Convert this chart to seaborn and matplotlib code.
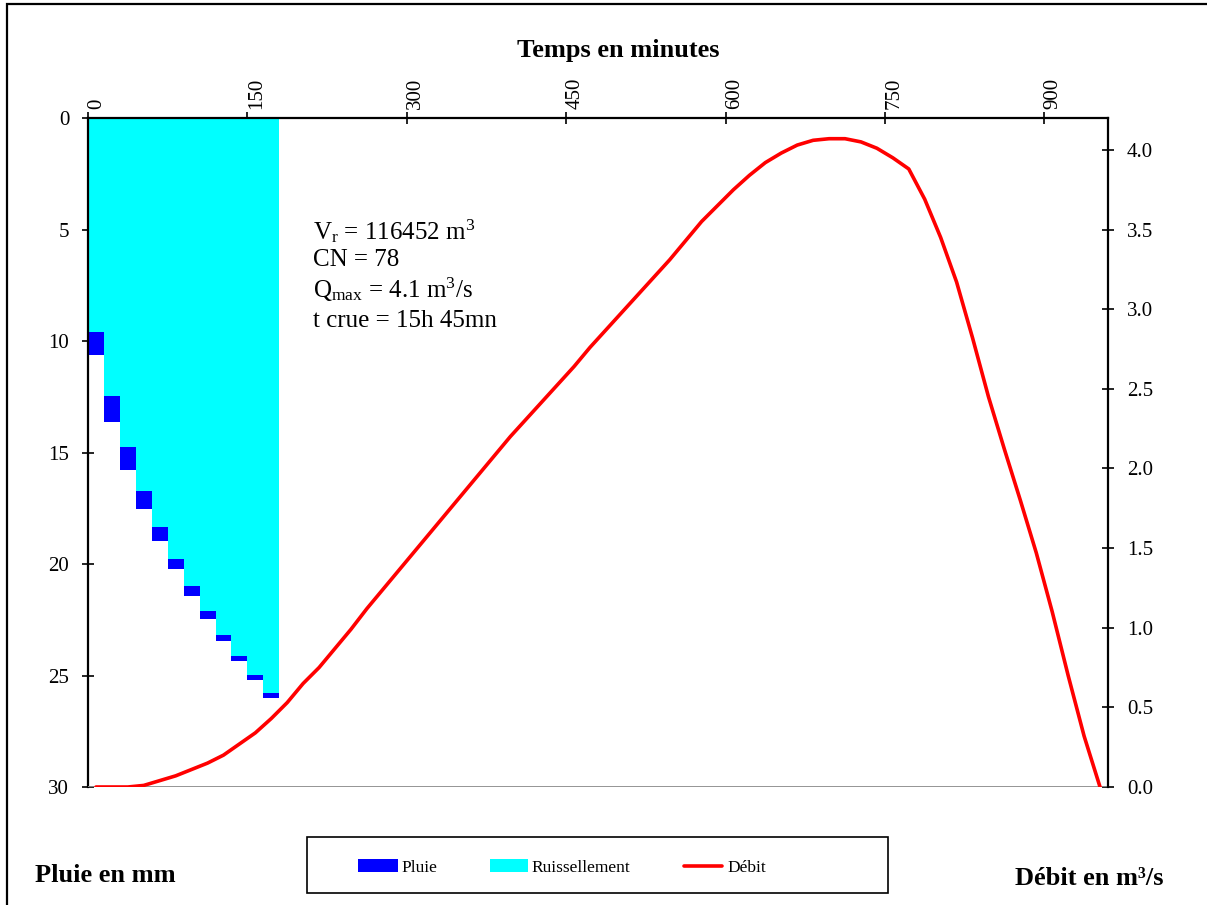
import numpy as np
import pandas as pd
import matplotlib
matplotlib.use("Agg")
import matplotlib.pyplot as plt
import seaborn as sns
from matplotlib.patches import Rectangle
from matplotlib.lines import Line2D
from matplotlib.ticker import FormatStrFormatter
from matplotlib.transforms import ScaledTranslation

# --- Hyétogramme : pas de 15 minutes (centres des pas, en minutes) ---
temps_pluie_min = [7.5, 22.5, 37.5, 52.5, 67.5, 82.5, 97.5, 112.5, 127.5, 142.5, 157.5, 172.5]
ruissellement_mm = [9.58, 12.45, 14.75, 16.71, 18.35, 19.79, 20.99, 22.11, 23.17, 24.14, 24.96, 25.80]
pluie_mm = [1.05, 1.18, 1.05, 0.82, 0.60, 0.43, 0.43, 0.37, 0.28, 0.22, 0.22, 0.22]

# --- Hydrogramme de crue : débit en m3/s, pas de 15 minutes ---
temps_debit_min = np.arange(7.5, 960, 15)
debit_m3s = [0.00, 0.00, 0.00, 0.01, 0.04, 0.07, 0.11, 0.15, 0.20, 0.27,
             0.34, 0.43, 0.53, 0.65, 0.75, 0.87, 0.99, 1.12, 1.24, 1.36,
             1.48, 1.60, 1.72, 1.84, 1.96, 2.08, 2.20, 2.31, 2.42, 2.53,
             2.64, 2.76, 2.87, 2.98, 3.09, 3.20, 3.31, 3.43, 3.55, 3.65,
             3.75, 3.84, 3.92, 3.98, 4.03, 4.06, 4.07, 4.07, 4.05, 4.01,
             3.95, 3.88, 3.69, 3.45, 3.17, 2.82, 2.45, 2.12, 1.80, 1.47,
             1.10, 0.70, 0.32, 0.00]

ticks_temps = [0, 150, 300, 450, 600, 750, 900]
ticks_pluie = [0, 5, 10, 15, 20, 25, 30]
ticks_debit = [0.0, 0.5, 1.0, 1.5, 2.0, 2.5, 3.0, 3.5, 4.0]

series_legende = ["Pluie", "Ruissellement", "Débit"]

volume_ruisselle = 116452
cn = 78
duree_crue = "15h 45mn"

sns.set_theme(style="white", rc={"text.color": "black", "xtick.color": "black",
                                 "ytick.color": "black", "axes.labelcolor": "black"})
plt.rcParams["font.family"] = ["Liberation Serif", "DejaVu Serif"]
plt.rcParams["mathtext.fontset"] = "custom"
plt.rcParams["mathtext.rm"] = "Liberation Serif"
plt.rcParams["mathtext.it"] = "Liberation Serif:italic"
plt.rcParams["mathtext.bf"] = "Liberation Serif:bold"

BLEU = "#0000FF"
CYAN = "#00FFFF"
ROUGE = "#FF0000"
W, H = 1207, 905


def fx(px):
    return px / W


def fy(py):
    return 1 - py / H


fig = plt.figure(figsize=(W / 100, H / 100), dpi=100)
ax = fig.add_axes([fx(88), fy(787), (1108 - 88) / W, (787 - 118) / H])
ax.set_facecolor("white")

# Pluie : barres jusqu'à la profondeur totale, recouvertes par le ruissellement
profondeur = [r + p for r, p in zip(ruissellement_mm, pluie_mm)]
df_pluie = pd.DataFrame({"t": temps_pluie_min, "prof": profondeur, "ruis": ruissellement_mm})
sns.barplot(data=df_pluie, x="t", y="prof", native_scale=True, color=BLEU,
            saturation=1, width=1, linewidth=0, errorbar=None, ax=ax)
sns.barplot(data=df_pluie, x="t", y="ruis", native_scale=True, color=CYAN,
            saturation=1, width=1, linewidth=0, errorbar=None, ax=ax)

ax.set_xlim(0, 960)
ax.set_ylim(30, 0)
ax.set_xlabel("")
ax.set_ylabel("")
ax.xaxis.tick_top()
ax.set_xticks(ticks_temps)
ax.set_xticklabels([str(t) for t in ticks_temps])
ax.set_yticks(ticks_pluie)
ax.set_yticklabels([str(v) for v in ticks_pluie])
ax.tick_params(axis="x", direction="inout", length=9, width=1.2, labelsize=15,
               labelrotation=90, pad=2, colors="black", top=True, bottom=False)
ax.tick_params(axis="y", direction="inout", length=9, width=1.2, labelsize=15,
               pad=9, colors="black", left=True)
for lab in ax.get_xticklabels():
    lab.set_transform(lab.get_transform() + ScaledTranslation(9 / 100, 0, fig.dpi_scale_trans))
for side in ("right", "bottom"):
    ax.spines[side].set_visible(False)
for side in ("left", "top"):
    ax.spines[side].set_color("black")
    ax.spines[side].set_linewidth(1.6)

# Débit sur l'axe secondaire
ax2 = ax.twinx()
ax2.axhline(0, color="#8c8c8c", lw=1.3, zorder=1)
df_debit = pd.DataFrame({"t": temps_debit_min, "q": debit_m3s})
sns.lineplot(data=df_debit, x="t", y="q", color=ROUGE, lw=2.6, ax=ax2, zorder=3)
ax2.set_xlim(0, 960)
ax2.set_ylim(0, 4.2)
ax2.set_xlabel("")
ax2.set_ylabel("")
ax2.set_yticks(ticks_debit)
ax2.yaxis.set_major_formatter(FormatStrFormatter("%.1f"))
ax2.tick_params(axis="y", direction="inout", length=9, width=1.2, labelsize=15,
                pad=9, colors="black", right=True)
for side in ("left", "top", "bottom"):
    ax2.spines[side].set_visible(False)
ax2.spines["right"].set_color("black")
ax2.spines["right"].set_linewidth(1.6)

# Caractéristiques de la crue
q_max = max(debit_m3s)
lignes = [
    (231, r"V$_{\mathrm{r}}$ = " + f"{volume_ruisselle}" + r" m$^{3}$"),
    (260, f"CN = {cn}"),
    (290, r"Q$_{\mathrm{max}}$ = " + f"{q_max:.1f}" + r" m$^{3}$/s"),
    (321, f"t crue = {duree_crue}"),
]
for y_px, txt in lignes:
    fig.text(fx(313), fy(y_px), txt, fontsize=18, ha="left", va="center", color="black")

# Titres des axes
fig.text(fx(618), fy(50), "Temps en minutes", fontsize=19, fontweight="bold",
         ha="center", va="center")
fig.text(fx(35), fy(875), "Pluie en mm", fontsize=19, fontweight="bold",
         ha="left", va="center")
fig.text(fx(1015), fy(878), "Débit en m³/s", fontsize=19, fontweight="bold",
         ha="left", va="center")

# Légende (cadre et entrées)
fig.add_artist(Rectangle((fx(307), fy(893)), (888 - 307) / W, (893 - 837) / H,
                         transform=fig.transFigure, facecolor="white", edgecolor="black",
                         lw=1.2))
fig.add_artist(Rectangle((fx(358), fy(872)), 40 / W, 13 / H, transform=fig.transFigure,
                         facecolor=BLEU, edgecolor="none"))
fig.add_artist(Rectangle((fx(490), fy(872)), 38 / W, 13 / H, transform=fig.transFigure,
                         facecolor=CYAN, edgecolor="none"))
fig.add_artist(Line2D([fx(684), fx(722)], [fy(866), fy(866)], transform=fig.transFigure,
                      color=ROUGE, lw=2.6))
for x_px, lab in zip([401, 531, 727], series_legende):
    fig.text(fx(x_px), fy(868), lab, fontsize=12.5, ha="left", va="center")

# Cadre du graphique
fig.add_artist(Rectangle((fx(7), -0.05), 1.2, fy(4) + 0.05,
                         transform=fig.transFigure, fill=False, edgecolor="black",
                         lw=1.6, clip_on=False))

fig.savefig("out.png", dpi=100, facecolor="white")
